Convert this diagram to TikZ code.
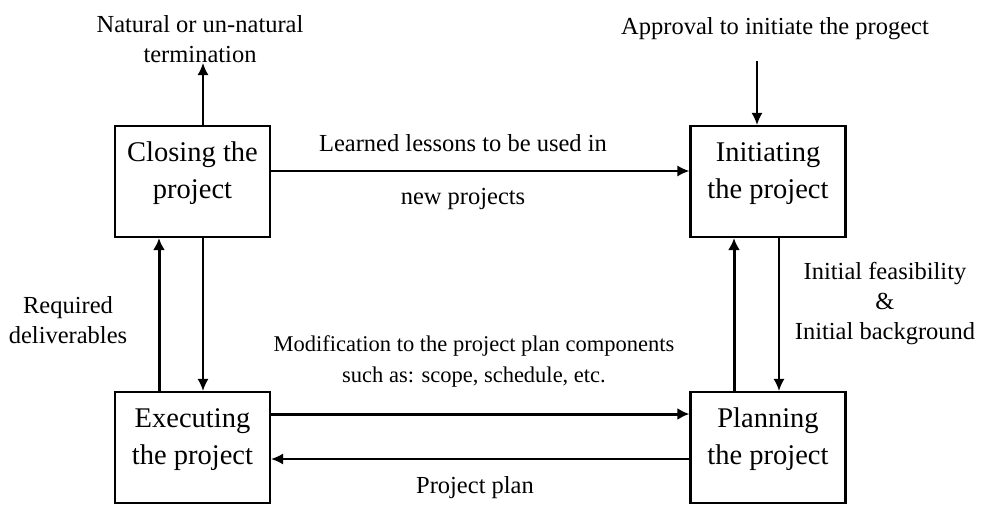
\documentclass[tikz,border=0pt]{standalone}
\usepackage{fontspec}
\setmainfont{Liberation Serif}
\usetikzlibrary{arrows.meta}
\begin{document}
\begin{tikzpicture}[x=1pt,y=-1pt,
  phase/.style={draw,line width=2.2pt,minimum width=155pt,minimum height=111pt,inner sep=0pt},
  phasetxt/.style={align=center,inner sep=0pt,font=\fontsize{28.5}{37}\selectfont},
  lbl/.style={align=center,inner sep=0pt,font=\fontsize{24.5}{30}\selectfont},
  arr/.style={line width=1.6pt,-{Latex[length=12pt,width=11pt]}},
  tarr/.style={line width=3pt,-{Latex[length=12pt,width=12pt]}}]
\useasboundingbox (0,0) rectangle (982,504);
\node[phase] (closing) at (192.5,181.5) {};
\node[phase] (init) at (768,181.5) {};
\node[phase] (exec) at (192.5,447.5) {};
\node[phase] (plan) at (768,447.5) {};
\node[phasetxt] (closingtxt) at ([yshift=8pt]closing.center) {Closing the\\project};
\node[phasetxt] (inittxt) at ([yshift=8pt]init.center) {Initiating\\the project};
\node[phasetxt] (exectxt) at ([yshift=8pt]exec.center) {Executing\\the project};
\node[phasetxt] (plantxt) at ([yshift=8pt]plan.center) {Planning\\the project};
\node[lbl,anchor=south] (term) at (200,63) {Natural or un-natural\\termination};
\node[lbl,anchor=south] (appr) at (775,40) {Approval to initiate the progect};
\coordinate (apprend) at (757,61);
\node[lbl] (learn1) at (463,143) {Learned lessons to be used in};
\node[lbl] (learn2) at (463,199) {new projects};
\node[lbl] (req) at (68,320) {Required\\deliverables};
\node[lbl] (feas) at (885,304) {Initial feasibility\\\&\\Initial background};
\node[lbl,font=\fontsize{22.5}{31}\selectfont] (mod) at (474,361) {Modification to the project plan components\\such as: scope, schedule, etc.};
\node[lbl] (pplan) at (475,488) {Project plan};
\draw[arr] ([xshift=10.5pt]closing.north) -- ([xshift=10.5pt]closing.north |- term.south);
\draw[arr] (apprend) -- (apprend |- init.north);
\draw[arr] ([yshift=10.5pt]closing.east) -- ([yshift=10.5pt]init.west);
\draw[arr] ([xshift=10.5pt]closing.south) -- ([xshift=10.5pt]exec.north);
\draw[tarr] ([xshift=-33.5pt]exec.north) -- ([xshift=-33.5pt]closing.south);
\draw[arr] ([xshift=11pt]init.south) -- ([xshift=11pt]plan.north);
\draw[tarr] ([xshift=-34pt]plan.north) -- ([xshift=-34pt]init.south);
\draw[tarr] ([yshift=33.5pt]exec.east) -- ([yshift=33.5pt]plan.west);
\draw[arr] ([yshift=-11.5pt]plan.west) -- ([yshift=-11.5pt]exec.east);
\end{tikzpicture}
\end{document}
